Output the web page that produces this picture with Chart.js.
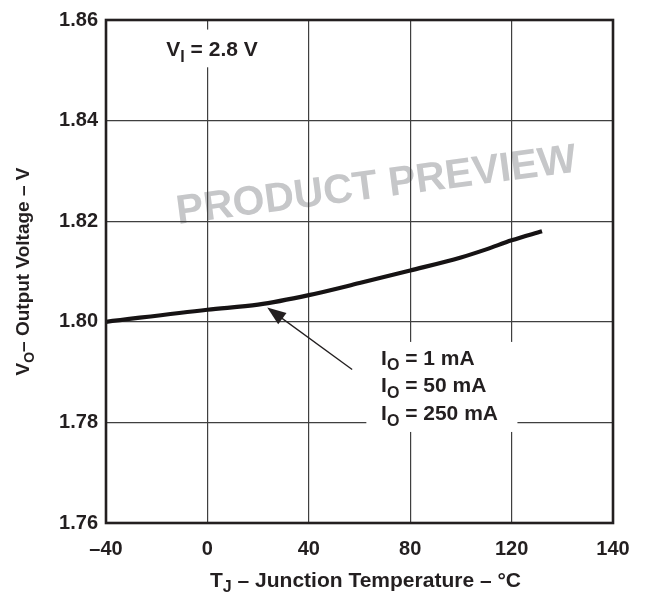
<!DOCTYPE html>
<html>
<head>
<meta charset="utf-8">
<script src="https://cdn.jsdelivr.net/npm/chart.js@4.4.1/dist/chart.umd.min.js"></script>
<style>
  html, body { margin: 0; padding: 0; background: #fff; }
  #wrap { width: 646px; height: 592px; }
</style>
</head>
<body>
<div id="wrap"><canvas id="vChart" width="646" height="592"></canvas></div>
<script>
const FONT = '"Liberation Sans", Arial, Helvetica, sans-serif';
const INK = '#231f20';

// junction temperature (°C) and output voltage (V)
const tempC = [-40, 0, 20, 40, 60, 80, 100, 110, 120, 132];
const voutV = [1.8000, 1.8024, 1.8034, 1.8053, 1.8077, 1.8102, 1.8128, 1.8144, 1.8162, 1.8180];

// axis tick labels as printed on the sheet
const xTickLabels = ['\u201340', '0', '40', '80', '120', '140'];
const yTicks = [1.76, 1.78, 1.80, 1.82, 1.84, 1.86];

// annotation anchors in data units
const ioLines = ['1 mA', '50 mA', '250 mA'];
const ioAnchor = { x: 68.5, y: [1.7915, 1.7860, 1.7804] };
const ioBox = { x0: 62.7, x1: 122.3, y0: 1.7960, y1: 1.7781 };
const viAnchor = { x: -16.2, y: 1.8528 };
const viBox = { x0: -26.4, x1: 15, y0: 1.8581, y1: 1.8506 };
const arrowTip = { x: 23.6, y: 1.80283 };
const arrowTail = { x: 57.1, y: 1.7905 };
const watermarkAt = { x: 66.7, y: 1.8269 };

function font(size) { return 'bold ' + size + 'px ' + FONT; }

// draw text with subscripts: parts = [[text, isSub], ...]
function richText(ctx, parts, x, y, size, align) {
    const subSize = Math.round(size * 0.76);
    let w = 0;
    parts.forEach(p => {
        ctx.font = font(p[1] ? subSize : size);
        w += ctx.measureText(p[0]).width;
    });
    let cx = align === 'center' ? x - w / 2 : x;
    ctx.textAlign = 'left';
    ctx.textBaseline = 'alphabetic';
    parts.forEach(p => {
        ctx.font = font(p[1] ? subSize : size);
        ctx.fillText(p[0], cx, p[1] ? y + size * 0.26 : y);
        cx += ctx.measureText(p[0]).width;
    });
}

const decorations = {
    id: 'decorations',
    beforeDraw(chart) {
        const ctx = chart.ctx;
        const xs = chart.scales.x, ys = chart.scales.y;
        ctx.save();
        ctx.translate(xs.getPixelForValue(watermarkAt.x), ys.getPixelForValue(watermarkAt.y));
        ctx.rotate(-7.5 * Math.PI / 180);
        ctx.fillStyle = '#c6c7c9';
        ctx.font = font(41);
        ctx.textAlign = 'center';
        ctx.textBaseline = 'middle';
        ctx.fillText('PRODUCT PREVIEW', 0, 0);
        ctx.restore();
    },
    afterDatasetsDraw(chart) {
        const ctx = chart.ctx;
        const xs = chart.scales.x, ys = chart.scales.y;
        const px = v => xs.getPixelForValue(v);
        const py = v => ys.getPixelForValue(v);
        ctx.save();

        // white patches behind the labels
        ctx.fillStyle = '#fff';
        [ioBox, viBox].forEach(b => {
            ctx.fillRect(px(b.x0), py(b.y0), px(b.x1) - px(b.x0), py(b.y1) - py(b.y0));
        });

        ctx.fillStyle = INK;
        richText(ctx, [['V', 0], ['I', 1], [' = 2.8 V', 0]], px(viAnchor.x), py(viAnchor.y), 21, 'left');
        ioLines.forEach((t, i) => {
            richText(ctx, [['I', 0], ['O', 1], [' = ' + t, 0]], px(ioAnchor.x), py(ioAnchor.y[i]), 21, 'left');
        });

        // arrow pointing at the curve
        const tx = px(arrowTip.x), ty = py(arrowTip.y);
        const sx = px(arrowTail.x), sy = py(arrowTail.y);
        const ang = Math.atan2(ty - sy, tx - sx);
        ctx.strokeStyle = INK;
        ctx.lineWidth = 1.3;
        ctx.beginPath();
        ctx.moveTo(sx, sy);
        ctx.lineTo(tx - 12 * Math.cos(ang), ty - 12 * Math.sin(ang));
        ctx.stroke();
        ctx.beginPath();
        ctx.moveTo(tx, ty);
        ctx.lineTo(tx - 20 * Math.cos(ang - 0.36), ty - 20 * Math.sin(ang - 0.36));
        ctx.lineTo(tx - 20 * Math.cos(ang + 0.36), ty - 20 * Math.sin(ang + 0.36));
        ctx.closePath();
        ctx.fill();
        ctx.restore();
    },
    afterDraw(chart) {
        const ctx = chart.ctx;
        const a = chart.chartArea;
        ctx.save();
        ctx.strokeStyle = INK;
        ctx.lineWidth = 2.6;
        ctx.strokeRect(a.left, a.top, a.right - a.left, a.bottom - a.top);

        ctx.fillStyle = INK;
        // x axis title
        richText(ctx, [['T', 0], ['J', 1], [' \u2013 Junction Temperature \u2013 \u00b0C', 0]],
            (a.left + a.right) / 2 + 6, 587, 21, 'center');
        // y axis title
        ctx.translate(22, (a.top + a.bottom) / 2);
        ctx.rotate(-Math.PI / 2);
        richText(ctx, [['V', 0], ['O', 1], ['\u2013 Output Voltage \u2013 V', 0]], 0, 7, 19, 'center');
        ctx.restore();
    }
};

function initChart() {
    const ctx = document.getElementById('vChart').getContext('2d');
    return new Chart(ctx, {
        type: 'line',
        data: {
            datasets: [{
                label: 'VO',
                data: tempC.map((t, i) => ({ x: t, y: voutV[i] })),
                borderColor: '#161314',
                borderWidth: 4.2,
                pointRadius: 0,
                cubicInterpolationMode: 'monotone',
                fill: false
            }]
        },
        options: {
            responsive: false,
            animation: false,
            devicePixelRatio: 1,
            layout: { padding: { top: 17, right: 33, left: 0, bottom: 0 } },
            plugins: { legend: { display: false }, tooltip: { enabled: false } },
            scales: {
                x: {
                    type: 'linear',
                    min: -40,
                    max: 160,
                    afterBuildTicks: s => { s.ticks = xTickLabels.map((_, i) => ({ value: -40 + 40 * i })); },
                    afterFit: s => { s.height = 69; },
                    grid: { color: '#3f3f3f', lineWidth: 1.2, drawTicks: false },
                    border: { display: false },
                    ticks: {
                        padding: 14,
                        color: INK,
                        font: { family: FONT, size: 20, weight: 'bold' },
                        maxRotation: 0,
                        callback: (v, i) => xTickLabels[i]
                    }
                },
                y: {
                    min: 1.76,
                    max: 1.86,
                    afterBuildTicks: s => { s.ticks = yTicks.map(v => ({ value: v })); },
                    afterFit: s => { s.width = 106; },
                    grid: { color: '#3f3f3f', lineWidth: 1.2, drawTicks: false },
                    border: { display: false },
                    ticks: {
                        padding: 8,
                        color: INK,
                        font: { family: FONT, size: 20, weight: 'bold' },
                        callback: v => v.toFixed(2)
                    }
                }
            }
        },
        plugins: [decorations]
    });
}

initChart();
</script>
</body>
</html>
